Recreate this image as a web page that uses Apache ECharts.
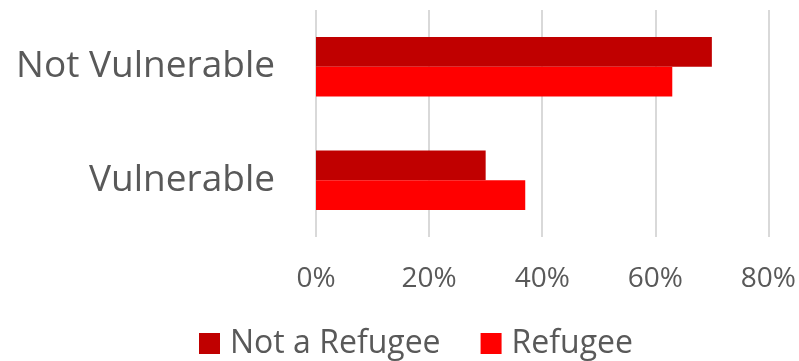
<!DOCTYPE html>
<html>
<head>
<meta charset="utf-8">
<script src="https://cdn.jsdelivr.net/npm/echarts@6/dist/echarts.min.js"></script>
<style>
  html, body { margin: 0; padding: 0; background: #fff; }
  #chart { width: 799px; height: 361px; }
</style>
</head>
<body>
<div id="chart"></div>
<script>
const categories = ['Not Vulnerable', 'Vulnerable'];
const notRefugee = [70, 30];
const refugee = [63, 37];
const tickMax = 80;
const tickStep = 20;

const FONT = 'Open Sans';
const TEXT = '#595959';

const chart = echarts.init(document.getElementById('chart'), null, { renderer: 'canvas' });
chart.setOption({
  animation: false,
  backgroundColor: '#ffffff',
  textStyle: { fontFamily: FONT },
  grid: { left: 316, right: 28.5, top: 10, bottom: 124, containLabel: false },
  legend: {
    top: 327.5,
    left: 199,
    padding: 0,
    itemWidth: 21,
    itemHeight: 21,
    itemGap: 40,
    icon: 'rect',
    textStyle: { fontFamily: FONT, fontSize: 32, lineHeight: 32, color: TEXT, padding: [0, 0, 0, 5] },
    data: ['Not a Refugee', 'Refugee']
  },
  xAxis: {
    type: 'value',
    min: 0,
    max: tickMax,
    interval: tickStep,
    axisLine: { show: false },
    axisTick: { show: false },
    splitLine: { lineStyle: { color: '#d9d9d9', width: 2 } },
    axisLabel: {
      formatter: v => v + '%',
      fontFamily: FONT, fontSize: 28, color: TEXT, margin: 28
    }
  },
  yAxis: {
    type: 'category',
    inverse: true,
    data: categories,
    axisLine: { show: false },
    axisTick: { show: false },
    axisLabel: { fontFamily: FONT, fontSize: 37, color: TEXT, margin: 41 }
  },
  series: [
    {
      name: 'Not a Refugee', type: 'bar', data: notRefugee,
      itemStyle: { color: '#c00000' },
      barGap: '0%', barCategoryGap: '47.7%'
    },
    {
      name: 'Refugee', type: 'bar', data: refugee,
      itemStyle: { color: '#ff0000' },
      barGap: '0%', barCategoryGap: '47.7%'
    }
  ]
});
</script>
</body>
</html>
